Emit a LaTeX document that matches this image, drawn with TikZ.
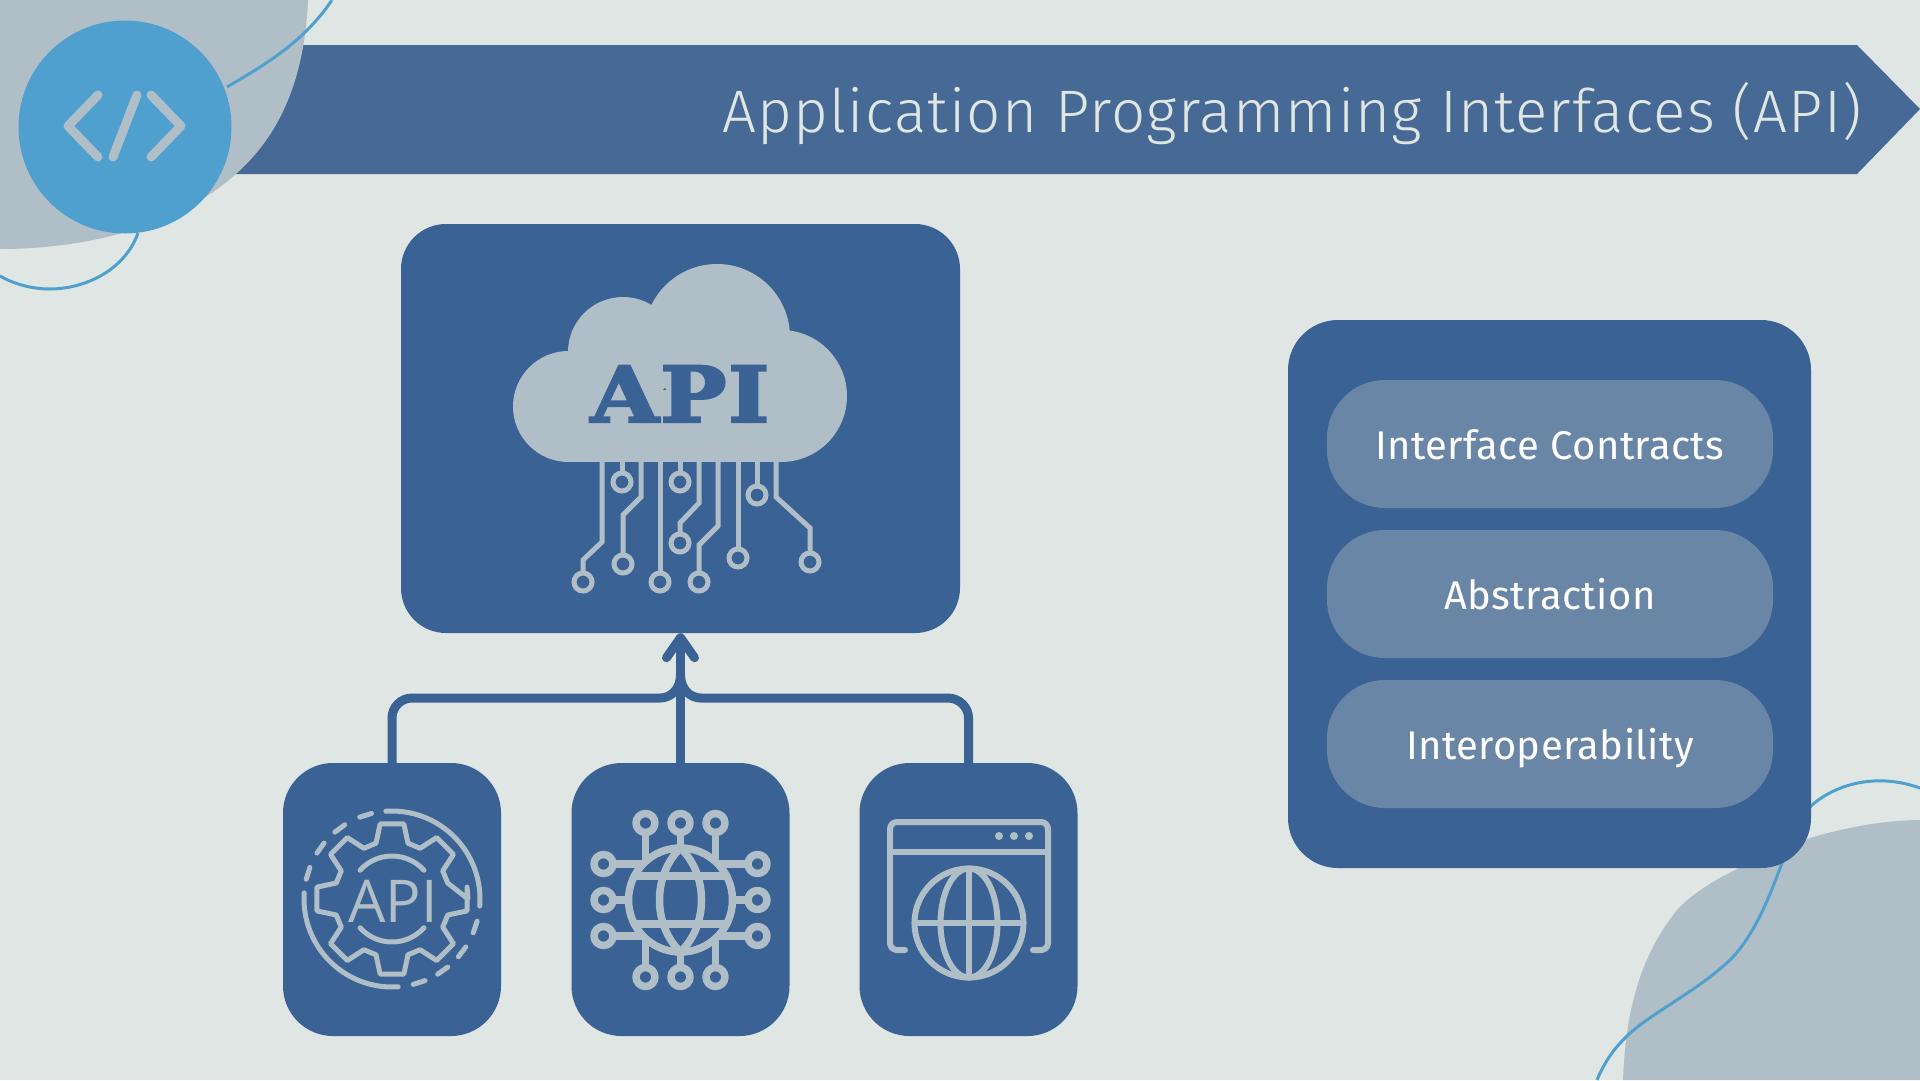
\documentclass[tikz,border=0pt]{standalone}
\usepackage{fontspec}
\setmainfont[LetterSpace=1]{Fira Sans}
\newfontfamily\titlefont[LetterSpace=2.1]{Fira Sans Light}
\newfontfamily\gearfont{Open Sans}
\newfontfamily\slabfont[FakeBold=3,LetterSpace=2]{DejaVu Serif Bold}
\usepackage{tikz}
\usetikzlibrary{arrows.meta,positioning}
\definecolor{paper}{HTML}{E0E6E3}
\definecolor{navy}{HTML}{3B6295}
\definecolor{bannerblue}{HTML}{466A95}
\definecolor{mist}{HTML}{B0BFC7}
\definecolor{sky}{HTML}{4FA0CE}
\definecolor{pillblue}{HTML}{6A86A7}
\tikzset{
        iconbox/.style={fill=navy, rounded corners=50pt, minimum width=218pt, minimum height=273pt, inner sep=0pt},
        pill/.style={fill=pillblue, rounded corners=58pt, minimum width=446pt, minimum height=128pt, inner sep=0pt,
                text=white, font=\fontsize{40}{40}\selectfont, text height=30pt, text depth=0pt},
        swirl/.style={draw=sky, line width=3pt},
        icon/.style={draw=mist, line width=5pt, line cap=round, line join=round},
        trace/.style={draw=mist, line width=5pt, line join=miter},
        link/.style={draw=navy, line width=9pt},
}
\begin{document}
\begin{tikzpicture}[x=1pt, y=-1pt]
        \useasboundingbox (0, 0) rectangle (1920, 1080);
        \fill[paper] (0, 0) rectangle (1920, 1080);
        \fill[bannerblue] (200, 45) -- (1857, 45) -- (1920, 109) -- (1857, 174) -- (200, 174) -- cycle;
        \node[anchor=base east, text=paper, inner sep=0pt, font=\titlefont\fontsize{60}{60}\selectfont] (title)
                at (1862, 132) {Application Programming Interfaces (API)};
        \fill[mist] (0, 0) -- (308, 0) .. controls (305, 70) and (285, 130) .. (237, 173)
                .. controls (180, 225) and (90, 249) .. (0, 249) -- cycle;
        \draw[swirl] (332, 0) .. controls (305, 40) and (270, 62) .. (227, 87);
        \draw[swirl] (138, 233) .. controls (125, 270) and (85, 289) .. (50, 289) .. controls (30, 289) and (12, 283) .. (0, 276);
        \node[circle, fill=sky, minimum size=213pt, inner sep=0pt] (badge) at (125, 127) {};
        \draw[icon, line width=9pt] (98, 95) -- (68, 126) -- (98, 157);
        \draw[icon, line width=9pt] (137, 95) -- (113, 157);
        \draw[icon, line width=9pt] (151, 95) -- (181, 126) -- (151, 157);

        \fill[mist] (1623, 1080) .. controls (1626, 1000) and (1645, 950) .. (1677, 910)
                .. controls (1700, 885) and (1740, 865) .. (1810, 838)
                .. controls (1850, 826) and (1890, 820) .. (1920, 820) -- (1920, 1080) -- cycle;
        \draw[swirl] (1597, 1080) .. controls (1606, 1058) and (1620, 1040) .. (1640, 1025)
                .. controls (1665, 1006) and (1700, 988) .. (1730, 960)
                .. controls (1755, 935) and (1770, 895) .. (1782, 863)
                .. controls (1790, 835) and (1795, 822) .. (1812, 805)
                .. controls (1835, 785) and (1875, 772) .. (1920, 788);

        \node[iconbox, minimum width=559pt, minimum height=409pt, rounded corners=45pt] (cloudbox) at (680.5, 428.5) {};
        \node[iconbox] (gearbox) at (392, 899.5) {};
        \node[iconbox] (globebox) at (680.5, 899.5) {};
        \node[iconbox] (webbox) at (968.5, 899.5) {};

        \draw[link] (gearbox.north) -- (392, 718) .. controls (392, 707) and (401, 698) .. (412, 698)
                -- (660, 698) .. controls (671, 698) and (680.5, 689) .. (680.5, 675);
        \draw[link] (webbox.north) -- (968.5, 718) .. controls (968.5, 707) and (959, 698) .. (948, 698)
                -- (701, 698) .. controls (690, 698) and (680.5, 689) .. (680.5, 675);
        \draw[link, -{Straight Barb[length=20pt, width=28pt, round, line width=9pt]}] (globebox.north) -- (cloudbox.south);

        \fill[mist] (568.5, 406.5) circle (55.5);
        \fill[mist] (623, 352) circle (55);
        \fill[mist] (717, 337) circle (73);
        \fill[mist] (781, 396) circle (66);
        \fill[mist] (568, 390) rectangle (781, 462);
        \node[text=navy, inner sep=0pt, font=\slabfont\fontsize{77}{77}\selectfont, text height=56pt, text depth=0pt] (apitext)
                at (680, 394) {\scalebox{1.14}[1]{API}};
        \draw[trace] (602, 460) -- (602, 542) -- (583, 560) -- (583, 573);
        \draw[trace] (622, 460) -- (622, 473);
        \draw[trace] (641, 460) -- (641, 497) -- (623, 515) -- (623, 555);
        \draw[trace] (660, 460) -- (660, 573);
        \draw[trace] (680, 460) -- (680, 473);
        \draw[trace] (699, 460) -- (699, 503) -- (680, 523) -- (680, 534);
        \draw[trace] (718, 460) -- (718, 526) -- (699, 545) -- (699, 573);
        \draw[trace] (738, 460) -- (738, 549);
        \draw[trace] (757, 460) -- (757, 486);
        \draw[trace] (776, 460) -- (776, 497) -- (810, 528) -- (810, 553);
        \foreach \px/\py in {583/582, 622/482, 623/564, 660/582, 680/482, 680/543, 699/582, 738/558, 757/495, 810/562}
                \draw[trace] (\px, \py) circle (9);

        \begin{scope}[shift={(392, 899)}]
                \draw[icon] plot[domain=-94:4.6, samples=40] (\x:88);
                \draw[icon] plot[domain=-176:-274, samples=40] (\x:88);
                \foreach \t in {107.5, 126.5, 144.5, 163, -18.6, -37, -54.7, -72}
                        \draw[icon] ({-\t-4}:88) -- ({-\t+4}:88);
                \draw[icon] (0:76)
                        \foreach \a in {0, 45, ..., 315} {
                                -- ({\a-9}:76) -- ({\a+9}:76) -- ({\a+16}:58) -- ({\a+29}:58)
                        } -- cycle;
                \draw[icon] plot[domain=-42:-138, samples=20] (\x:43);
                \draw[icon] plot[domain=42:138, samples=20] (\x:43);
                \node[text=mist, inner sep=0pt, font=\gearfont\fontsize{59}{59}\selectfont, text height=42pt, text depth=0pt] (gearlabel) at (1, 2) {API};
        \end{scope}

        \begin{scope}[shift={(680.5, 900)}, icon/.append style={line width=7.5pt}]
                \draw[icon] (0, 0) circle (52);
                \draw[icon] (0, -52) .. controls (28, -25) and (28, 25) .. (0, 52);
                \draw[icon] (0, -52) .. controls (-28, -25) and (-28, 25) .. (0, 52);
                \draw[icon] (-46, -24) -- (46, -24);
                \draw[icon] (-46, 24) -- (46, 24);
                \foreach \sx in {-35, 0, 35} {
                        \draw[icon] (\sx, -77) circle (9.5);
                        \draw[icon] (\sx, 77) circle (9.5);
                }
                \foreach \sy in {-36, 0, 36} {
                        \draw[icon] (-77, \sy) circle (9.5);
                        \draw[icon] (77, \sy) circle (9.5);
                }
                \draw[icon] (-35, -64) -- (-35, -42);
                \draw[icon] (0, -64) -- (0, -52);
                \draw[icon] (35, -64) -- (35, -42);
                \draw[icon] (-35, 64) -- (-35, 42);
                \draw[icon] (0, 64) -- (0, 52);
                \draw[icon] (35, 64) -- (35, 42);
                \draw[icon] (-64, -36) -- (-38, -36);
                \draw[icon] (-64, 0) -- (-52, 0);
                \draw[icon] (-64, 36) -- (-38, 36);
                \draw[icon] (64, -36) -- (38, -36);
                \draw[icon] (64, 0) -- (52, 0);
                \draw[icon] (64, 36) -- (38, 36);
        \end{scope}

        \begin{scope}[icon/.append style={line width=6pt}]
                \draw[icon, rounded corners=7pt] (905, 950) -- (890, 950) -- (890, 822) -- (1048, 822) -- (1048, 950) -- (1033, 950);
                \draw[icon] (890, 852) -- (1048, 852);
                \foreach \dx in {999, 1014, 1029}
                        \fill[mist] (\dx, 836) circle (4);
                \draw[icon] (969, 923) circle (54.5);
                \draw[icon] (969, 923) ellipse (28.5 and 54.5);
                \draw[icon] (969, 868.5) -- (969, 977.5);
                \draw[icon] (914.5, 923) -- (1023.5, 923);
        \end{scope}

        \node[iconbox, minimum width=523pt, minimum height=548pt] (panelbox) at (1549.5, 594) {};
        \node[pill] (contractpill) at (1550, 444) {Interface Contracts};
        \node[pill] (abstractpill) at (1550, 594) {Abstraction};
        \node[pill] (interoppill) at (1550, 744) {Interoperability};
\end{tikzpicture}
\end{document}
